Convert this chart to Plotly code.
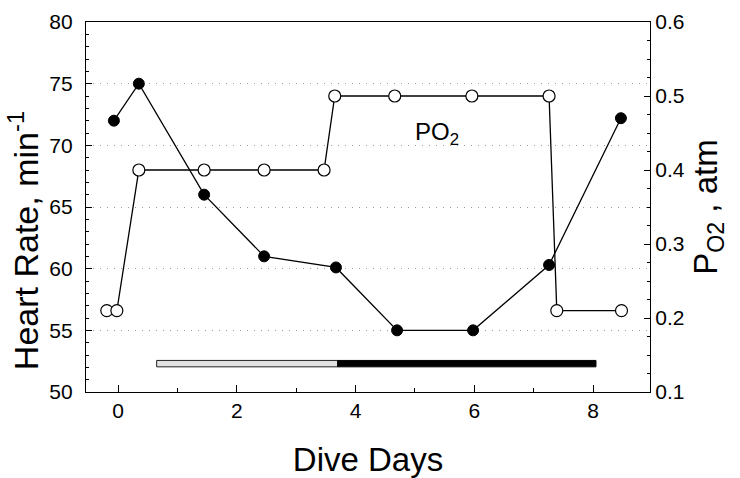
import plotly.graph_objects as go

# Heart rate (left axis) by dive day
days_hr = [-0.07, 0.35, 1.45, 2.46, 3.67, 4.70, 5.98, 7.26, 8.47]
heart_rate = [72.0, 75.0, 66.0, 61.0, 60.1, 55.0, 55.0, 60.3, 72.2]

# Inspired oxygen partial pressure (right axis) by dive day
days_po2 = [-0.19, -0.02, 0.35, 1.45, 2.46, 3.47, 3.65, 4.66, 5.96, 7.26, 7.39, 8.48]
po2_atm = [0.21, 0.21, 0.40, 0.40, 0.40, 0.40, 0.50, 0.50, 0.50, 0.50, 0.21, 0.21]

# Dive phases shown as a bar near the bottom: [start, end] in dive days
phase_light = [0.65, 3.70]
phase_dark = [3.70, 8.05]
phase_level = 52.3

FONT = "Liberation Sans, Arial, Helvetica, sans-serif"

fig = go.Figure()

fig.add_trace(go.Scatter(
    x=days_hr, y=heart_rate, mode="lines+markers",
    line=dict(color="black", width=1.3),
    marker=dict(symbol="circle", size=11, color="black",
                line=dict(color="black", width=1)),
    showlegend=False,
))

fig.add_trace(go.Scatter(
    x=days_po2, y=po2_atm, mode="lines+markers", yaxis="y2",
    line=dict(color="black", width=1.3),
    marker=dict(symbol="circle", size=12, color="white",
                line=dict(color="black", width=1.2)),
    showlegend=False,
))

half_h = 0.26
fig.add_shape(type="rect", xref="x", yref="y",
              x0=phase_light[0], x1=phase_light[1],
              y0=phase_level - half_h, y1=phase_level + half_h,
              fillcolor="#e2e2e2", line=dict(color="#222", width=1))
fig.add_shape(type="rect", xref="x", yref="y",
              x0=phase_dark[0], x1=phase_dark[1],
              y0=phase_level - half_h, y1=phase_level + half_h,
              fillcolor="black", line=dict(color="black", width=1))

fig.add_annotation(x=5.37, y=71.0, xref="x", yref="y",
                   text="PO<sub>2</sub>", showarrow=False,
                   font=dict(family=FONT, size=24, color="black"))

# Left axis title placed as rotated text
fig.add_annotation(x=-0.112, y=0.41, xref="paper", yref="paper",
                   text="Heart Rate, min<sup>-1</sup>", textangle=-90,
                   showarrow=False, xanchor="center", yanchor="middle",
                   font=dict(family=FONT, size=34, color="black"))

axis_common = dict(
    showline=True, linecolor="black", linewidth=1.3,
    ticks="inside", tickcolor="black", zeroline=False, automargin=False,
    tickfont=dict(family=FONT, size=21, color="black"),
)

fig.update_layout(
    width=740, height=478,
    margin=dict(l=86, r=90, t=22, b=86),
    paper_bgcolor="white", plot_bgcolor="white",
    font=dict(family=FONT, color="black"),
    xaxis=dict(
        **axis_common, range=[-0.54, 8.96], tick0=0, dtick=2,
        ticklen=7, mirror=True, showgrid=False,
        minor=dict(dtick=1, ticklen=4, ticks="inside", tickcolor="black"),
        title=dict(text="Dive Days", font=dict(family=FONT, size=33), standoff=27),
    ),
    yaxis=dict(
        **axis_common, range=[50, 80], tick0=50, dtick=5, ticklen=6,
        ticklabelstandoff=8,
        showgrid=True, gridcolor="#9a9a9a", griddash="1px,6px", gridwidth=1,
        minor=dict(dtick=1, ticklen=3, ticks="inside", tickcolor="black",
                   showgrid=False),
    ),
    yaxis2=dict(
        **axis_common, overlaying="y", side="right", range=[0.1, 0.6],
        tick0=0.1, dtick=0.1, tickformat=".1f", ticklen=6, showgrid=False,
        minor=dict(dtick=0.025, ticklen=3, ticks="inside", tickcolor="black"),
        title=dict(text="P<sub>O2</sub> , atm",
                   font=dict(family=FONT, size=33), standoff=10),
    ),
)

fig.write_html("out.html")
